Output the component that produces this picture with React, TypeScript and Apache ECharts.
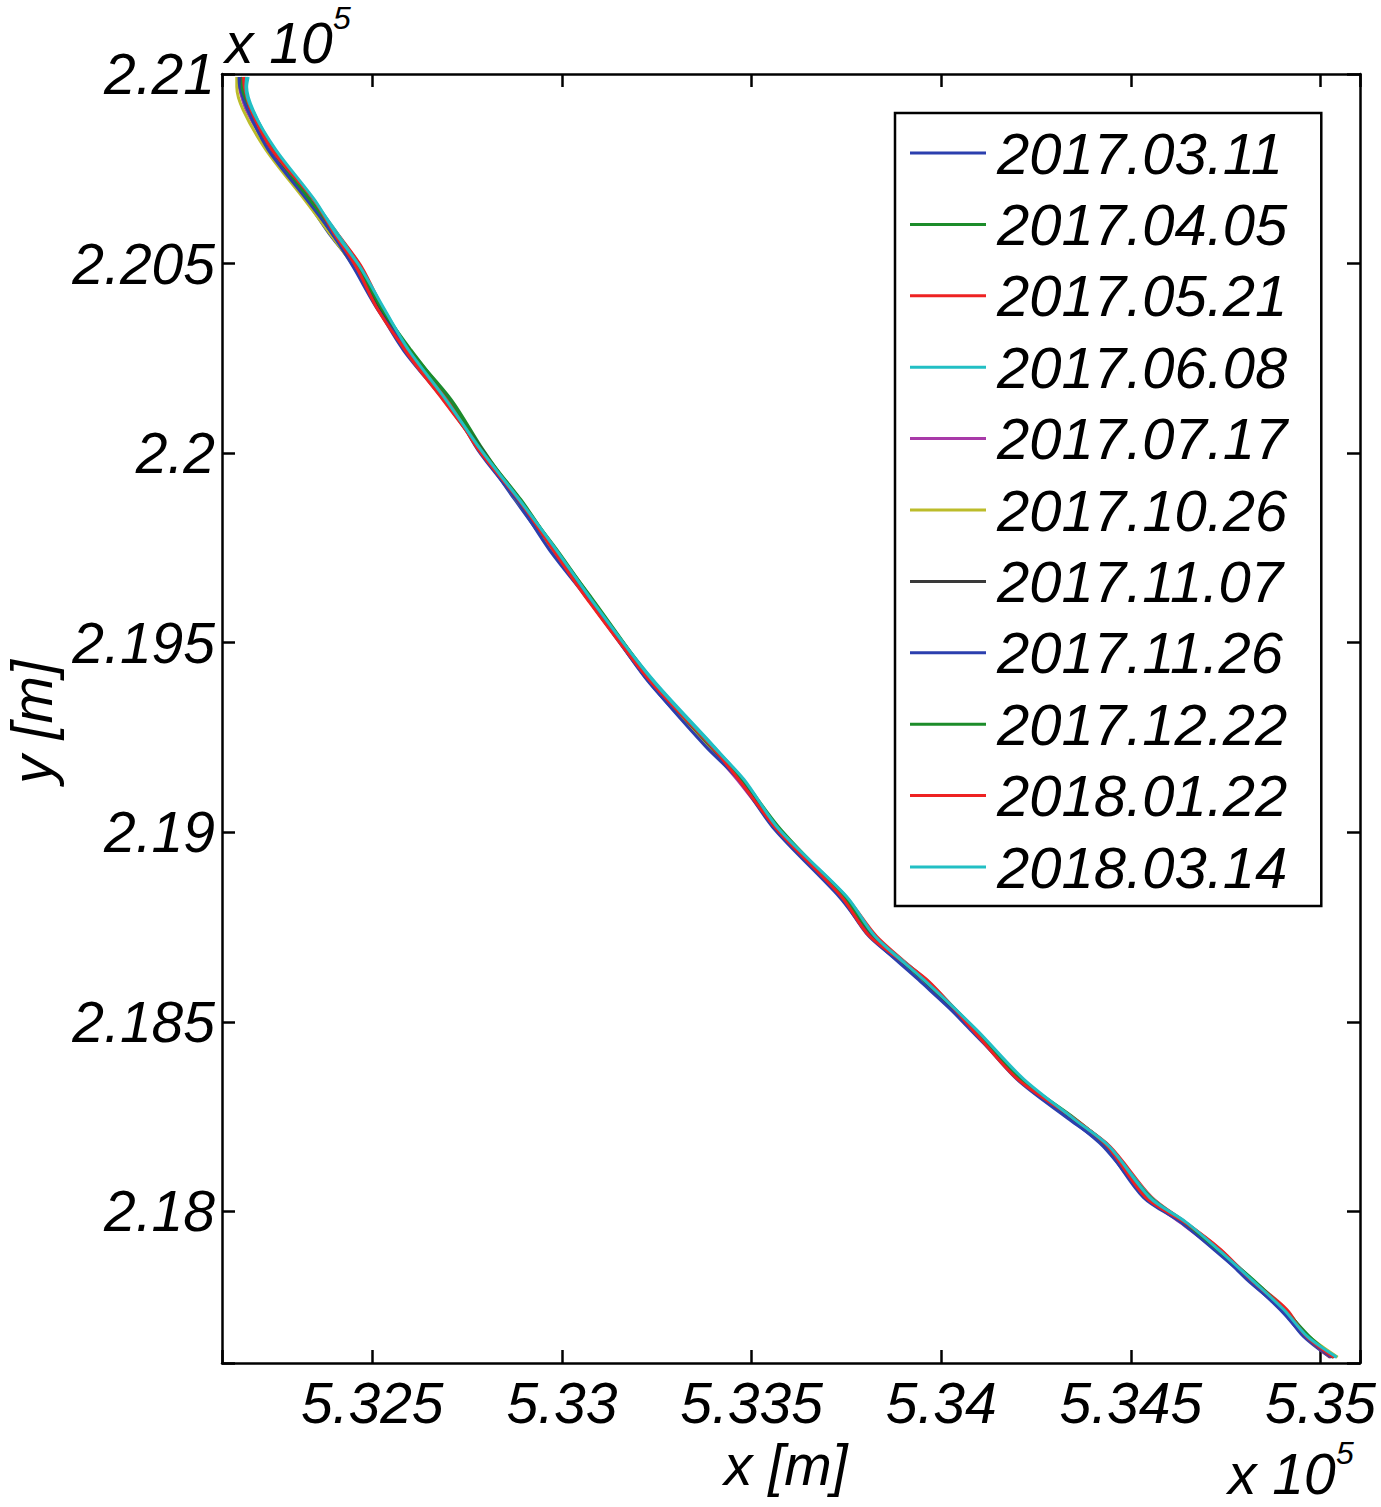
import React, { useEffect, useRef } from "react";
import * as echarts from "echarts";

const DATES = [
  "2017.03.11", "2017.04.05", "2017.05.21", "2017.06.08", "2017.07.17", "2017.10.26",
  "2017.11.07", "2017.11.26", "2017.12.22", "2018.01.22", "2018.03.14",
];

const COLORS = [
  "#2b3fae", "#1c8c2a", "#ee2222", "#22bfc4", "#a83aa8", "#bcbc2a",
  "#3a3a3a", "#2b3fae", "#1c8c2a", "#ee2222", "#22bfc4",
];

// y [m] sample positions along the shoreline trace
const Y_SAMPLES = [
  220992, 220966, 220905, 220800, 220668, 220581, 220491, 220378, 220272, 220140, 220009,
  219877, 219745, 219613, 219402, 219226, 219139, 219007, 218830, 218725, 218611, 218480,
  218348, 218242, 218171, 218037, 217971, 217899, 217820, 217741, 217670, 217615,
];

// x [m] of each date's trace at the sample positions
const X_20170311 = [532152, 532154, 532170, 532231, 532326, 532385, 532454, 532517, 532582, 532689, 532784, 532876, 532973, 533076, 533224, 533387, 533474, 533565, 533735, 533810, 533948, 534076, 534208, 534342, 534427, 534541, 534632, 534725, 534806, 534897, 534955, 535025];
const X_20170405 = [532157, 532159, 532178, 532242, 532340, 532405, 532470, 532525, 532598, 532709, 532792, 532886, 532987, 533080, 533236, 533399, 533472, 533573, 533745, 533820, 533958, 534086, 534206, 534352, 534443, 534547, 534638, 534731, 534816, 534907, 534967, 535033];
const X_20170521 = [532165, 532163, 532182, 532238, 532342, 532407, 532472, 532529, 532586, 532687, 532786, 532890, 532981, 533070, 533232, 533385, 533468, 533571, 533749, 533830, 533958, 534086, 534204, 534350, 534445, 534555, 534644, 534735, 534818, 534911, 534961, 535027];
const X_20170608 = [532173, 532169, 532186, 532242, 532344, 532407, 532466, 532531, 532598, 532701, 532782, 532884, 532983, 533076, 533240, 533401, 533476, 533571, 533749, 533824, 533960, 534088, 534214, 534350, 534441, 534553, 534642, 534733, 534820, 534905, 534967, 535041];
const X_20170717 = [532147, 532149, 532168, 532230, 532332, 532395, 532456, 532521, 532590, 532699, 532788, 532882, 532971, 533072, 533234, 533387, 533462, 533567, 533739, 533814, 533950, 534080, 534210, 534346, 534435, 534541, 534630, 534723, 534812, 534895, 534961, 535037];
const X_20171026 = [532143, 532143, 532160, 532220, 532322, 532387, 532452, 532517, 532590, 532697, 532786, 532880, 532977, 533078, 533230, 533391, 533472, 533563, 533741, 533818, 533946, 534084, 534206, 534348, 534433, 534545, 534640, 534725, 534814, 534899, 534969, 535045];
const X_20171107 = [532153, 532155, 532174, 532236, 532334, 532393, 532460, 532523, 532596, 532699, 532790, 532882, 532979, 533072, 533232, 533393, 533470, 533569, 533745, 533818, 533952, 534082, 534210, 534348, 534435, 534545, 534640, 534727, 534812, 534901, 534963, 535033];
const X_20171126 = [532149, 532151, 532172, 532226, 532328, 532393, 532450, 532515, 532594, 532703, 532778, 532880, 532967, 533070, 533226, 533379, 533466, 533561, 533731, 533814, 533940, 534080, 534200, 534338, 534431, 534533, 534632, 534719, 534810, 534893, 534959, 535029];
const X_20171222 = [532159, 532157, 532182, 532238, 532336, 532403, 532464, 532527, 532602, 532703, 532788, 532892, 532983, 533082, 533236, 533393, 533476, 533577, 533743, 533824, 533954, 534090, 534212, 534356, 534439, 534551, 534642, 534729, 534822, 534905, 534971, 535035];
const X_20180122 = [532161, 532163, 532180, 532236, 532346, 532399, 532458, 532515, 532588, 532697, 532780, 532886, 532977, 533068, 533230, 533395, 533466, 533567, 533737, 533812, 533962, 534082, 534202, 534354, 534439, 534539, 534642, 534737, 534816, 534907, 534963, 535035];
const X_20180314 = [532169, 532167, 532184, 532246, 532348, 532403, 532468, 532533, 532596, 532695, 532786, 532888, 532985, 533078, 533238, 533399, 533480, 533573, 533751, 533826, 533954, 534092, 534218, 534352, 534443, 534549, 534646, 534731, 534818, 534903, 534965, 535043];

const X_SERIES = [
  X_20170311, X_20170405, X_20170521, X_20170608, X_20170717, X_20171026,
  X_20171107, X_20171126, X_20171222, X_20180122, X_20180314,
];

const X_TICK_VALUES = [532500, 533000, 533500, 534000, 534500, 535000];
const X_TICK_LABELS = ["5.325", "5.33", "5.335", "5.34", "5.345", "5.35"];
const Y_TICK_VALUES = [218000, 218500, 219000, 219500, 220000, 220500, 221000];
const Y_TICK_LABELS = ["2.18", "2.185", "2.19", "2.195", "2.2", "2.205", "2.21"];

const X_MIN = 532104;
const X_MAX = 535104;
const Y_MIN = 217600;
const Y_MAX = 221000;

const FONT = "'Liberation Sans', Arial, sans-serif";

export default function App() {
  const ref = useRef<HTMLDivElement>(null);
  useEffect(() => {
    if (!ref.current) return;
    const chart = echarts.init(ref.current, null, { renderer: "svg" });
    const labelStyle = {
      fontSize: 57,
      fontStyle: "italic" as const,
      fontFamily: FONT,
      color: "#000",
    };
    const axisCommon = {
      type: "value" as const,
      minInterval: 500,
      maxInterval: 500,
      splitLine: { show: false },
      axisLine: { show: true, onZero: false, lineStyle: { color: "#000", width: 2.5 } },
      axisTick: { show: true, inside: true, length: 13, lineStyle: { color: "#000", width: 2.5 } },
    };
    const fmt = (vals: number[], labels: string[]) => (v: number) => {
      const i = vals.indexOf(Math.round(v));
      return i >= 0 ? labels[i] : "";
    };
    const series = DATES.map((d, k) => ({
      name: d,
      type: "line" as const,
      xAxisIndex: 0,
      yAxisIndex: 0,
      symbol: "none",
      smooth: 0.3,
      lineStyle: { color: COLORS[k], width: 3 },
      itemStyle: { color: COLORS[k] },
      data: Y_SAMPLES.map((y, i) => [X_SERIES[k][i], y]),
    }));
    chart.setOption({
      animation: false,
      backgroundColor: "#fff",
      grid: { left: 222, top: 74, width: 1138, height: 1289, containLabel: false },
      xAxis: [
        {
          ...axisCommon,
          position: "bottom",
          min: X_MIN,
          max: X_MAX,
          axisLabel: { ...labelStyle, margin: 11, formatter: fmt(X_TICK_VALUES, X_TICK_LABELS) },
        },
        {
          ...axisCommon,
          position: "top",
          min: X_MIN,
          max: X_MAX,
          axisLabel: { show: false },
        },
      ],
      yAxis: [
        {
          ...axisCommon,
          position: "left",
          min: Y_MIN,
          max: Y_MAX,
          axisLabel: { ...labelStyle, margin: 7, formatter: fmt(Y_TICK_VALUES, Y_TICK_LABELS) },
        },
        {
          ...axisCommon,
          position: "right",
          min: Y_MIN,
          max: Y_MAX,
          axisLabel: { show: false },
        },
      ],
      legend: {
        orient: "vertical",
        left: 895,
        top: 113,
        padding: [10, 34, 9, 15],
        itemGap: 11.4,
        itemWidth: 76,
        itemHeight: 4,
        icon: "path://M0 0H100V4H0Z",
        borderColor: "#000",
        borderWidth: 2.5,
        backgroundColor: "#fff",
        selectedMode: false,
        textStyle: {
          fontSize: 58,
          fontStyle: "italic",
          fontFamily: FONT,
          color: "#000",
          lineHeight: 60,
          padding: [0, 0, 0, 6],
        },
        data: DATES,
      },
      graphic: [
        { type: "text", left: 225, top: 14, style: { text: "x 10", font: `italic 57px ${FONT}`, fill: "#000" } },
        { type: "text", left: 333, top: 2, style: { text: "5", font: `italic 32px ${FONT}`, fill: "#000" } },
        { type: "text", left: 1228, top: 1445, style: { text: "x 10", font: `italic 57px ${FONT}`, fill: "#000" } },
        { type: "text", left: 1336, top: 1437, style: { text: "5", font: `italic 32px ${FONT}`, fill: "#000" } },
        { type: "text", left: 724, top: 1436, style: { text: "x [m]", font: `italic 57px ${FONT}`, fill: "#000" } },
        {
          type: "text",
          x: 32,
          y: 722,
          rotation: Math.PI / 2,
          style: { text: "y [m]", font: `italic 57px ${FONT}`, fill: "#000", align: "center", verticalAlign: "middle" },
        },
      ],
      series,
    });
    return () => chart.dispose();
  }, []);
  return (
    <div
      ref={ref}
      style={{ position: "absolute", left: 0, top: 0, width: 1381, height: 1507, background: "#fff" }}
    />
  );
}
